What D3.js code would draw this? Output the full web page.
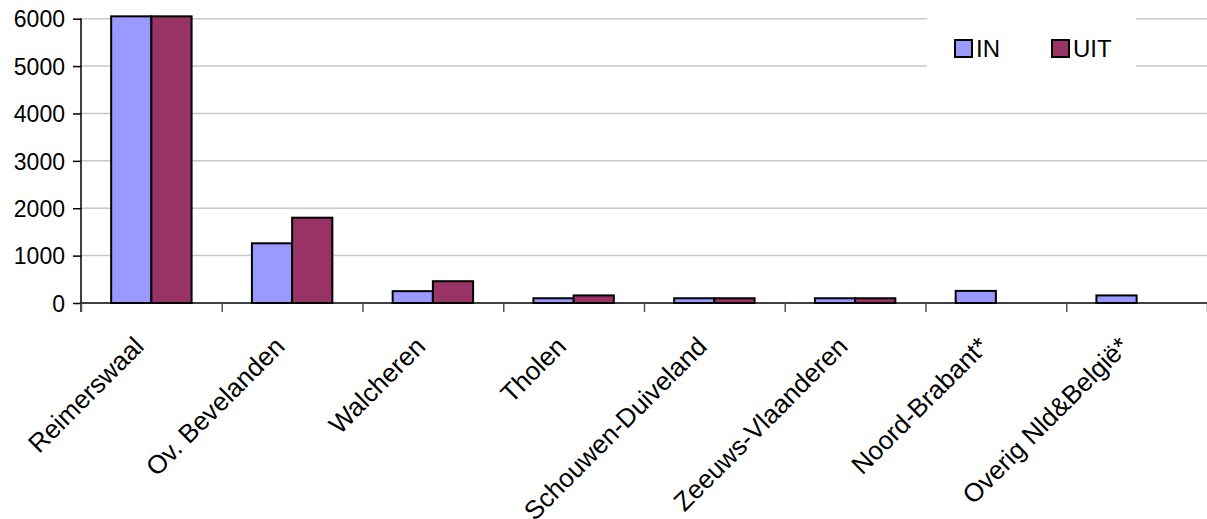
<!DOCTYPE html>
<html>
<head>
<meta charset="utf-8">
<script src="https://cdn.jsdelivr.net/npm/d3@7"></script>
<style>
  body { margin: 0; background: #fff; }
  svg text { font-family: "Liberation Sans", Arial, sans-serif; fill: #000; }
</style>
</head>
<body>
<svg id="chart"></svg>
<script>
// Section for Data
var categories = ["Reimerswaal", "Ov. Bevelanden", "Walcheren", "Tholen",
    "Schouwen-Duiveland", "Zeeuws-Vlaanderen", "Noord-Brabant*", "Overig Nld&België*"];
var inValues = [6050, 1260, 250, 100, 100, 100, 255, 160];
var uitValues = [6050, 1800, 460, 160, 100, 100, null, null];
var seriesNames = ["IN", "UIT"];
var seriesColors = ["#9999ff", "#993366"];
var yTicks = [0, 1000, 2000, 3000, 4000, 5000, 6000];

// Section for dimensions
var svgWidth = 1207;
var svgHeight = 519;
var plotLeft = 81, plotRight = 1207, plotTop = 18.7, plotBottom = 303;

var svg = d3.select("#chart")
    .attr("width", svgWidth)
    .attr("height", svgHeight);

var x = d3.scaleBand()
    .domain(categories)
    .range([plotLeft, plotRight]);

var xSub = d3.scaleBand()
    .domain(seriesNames)
    .range([0, x.bandwidth()])
    .paddingOuter(0.75);

var xEdges = d3.scaleLinear()
    .domain([0, categories.length])
    .range([plotLeft, plotRight]);

var y = d3.scaleLinear()
    .domain([0, 6000])
    .range([plotBottom, plotTop]);

// gridlines
svg.append("g")
    .selectAll("line")
    .data(yTicks.slice(1))
    .enter().append("line")
    .attr("x1", plotLeft)
    .attr("x2", plotRight)
    .attr("y1", function (d) { return y(d); })
    .attr("y2", function (d) { return y(d); })
    .attr("stroke", "#c8c8c8")
    .attr("stroke-width", 1.5);

// legend background (covers gridlines)
svg.append("rect")
    .attr("x", 927)
    .attr("y", 2)
    .attr("width", 209)
    .attr("height", 86)
    .attr("fill", "#fff");

// bars
var rows = categories.map(function (c, i) {
    return { cat: c, values: [inValues[i], uitValues[i]] };
});

var groups = svg.append("g")
    .selectAll("g")
    .data(rows)
    .enter().append("g")
    .attr("transform", function (d) { return "translate(" + x(d.cat) + ",0)"; });

groups.selectAll("rect")
    .data(function (d) {
        return d.values.map(function (v, j) { return { name: seriesNames[j], value: v, color: seriesColors[j] }; })
            .filter(function (e) { return e.value != null; });
    })
    .enter().append("rect")
    .attr("x", function (d) { return xSub(d.name); })
    .attr("width", xSub.bandwidth())
    .attr("y", function (d) { return y(d.value); })
    .attr("height", function (d) { return plotBottom - y(d.value); })
    .attr("fill", function (d) { return d.color; })
    .attr("stroke", "#000")
    .attr("stroke-width", 2);

// y axis
var yAxis = svg.append("g")
    .attr("transform", "translate(" + plotLeft + ",0)")
    .call(d3.axisLeft(y).tickValues(yTicks).tickFormat(d3.format("d")).tickSize(8).tickPadding(8));
yAxis.select(".domain").attr("d", "M0," + (plotTop - 0.5) + "V" + (plotBottom + 9)).attr("stroke", "#000").attr("stroke-width", 1.5);
yAxis.selectAll(".tick line").attr("stroke", "#000").attr("stroke-width", 1.5);
yAxis.selectAll(".tick text")
    .style("font-size", "23px")
    .attr("dy", "0.36em");

// x axis (edge ticks)
var xAxis = svg.append("g")
    .attr("transform", "translate(0," + plotBottom + ")")
    .call(d3.axisBottom(xEdges).tickValues(d3.range(categories.length + 1)).tickSize(9).tickFormat(""));
xAxis.select(".domain").attr("d", "M" + plotLeft + ",0H" + plotRight).attr("stroke", "#000").attr("stroke-width", 1.5);
xAxis.selectAll(".tick line").attr("stroke", "#555").attr("stroke-width", 1.5);

// category labels
svg.append("g")
    .selectAll("text")
    .data(categories)
    .enter().append("text")
    .attr("text-anchor", "end")
    .attr("transform", function (d) {
        return "translate(" + (x(d) + x.bandwidth() / 2 - 6) + "," + 348 + ") rotate(-45)";
    })
    .style("font-size", "26px")
    .text(function (d) { return d; });

// legend
var legend = svg.append("g");
var legendX = [955, 1052];
seriesNames.forEach(function (name, i) {
    legend.append("rect")
        .attr("x", legendX[i])
        .attr("y", 40)
        .attr("width", 17)
        .attr("height", 17)
        .attr("fill", seriesColors[i])
        .attr("stroke", "#000")
        .attr("stroke-width", 2);
    legend.append("text")
        .attr("x", legendX[i] + 21)
        .attr("y", 57)
        .style("font-size", "24px")
        .text(name);
});
</script>
</body>
</html>
